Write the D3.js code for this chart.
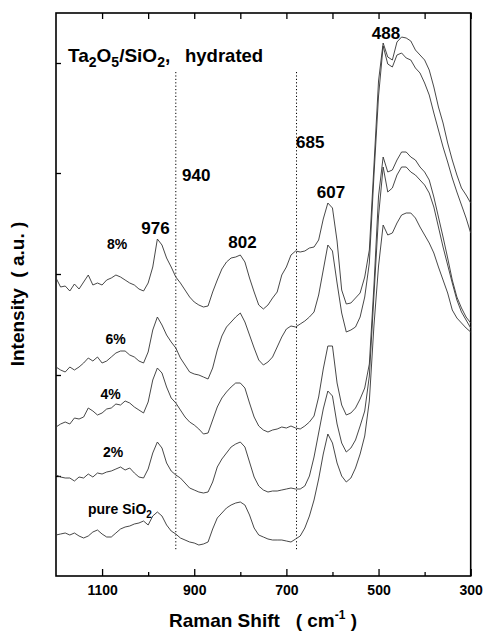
<!DOCTYPE html>
<html>
<head>
<meta charset="utf-8">
<script src="https://cdn.jsdelivr.net/npm/d3@7"></script>
<style>
  body { margin: 0; background: #fff; }
  text { font-family: Arial, "Liberation Sans", sans-serif; font-weight: bold; fill: #000; }
</style>
</head>
<body>
<svg width="483" height="635"></svg>
<script>
// Raman shift grid (cm-1), high to low
var shifts = [1200,1190,1180,1170,1160,1150,1140,1130,1120,1110,
  1100,1090,1080,1070,1060,1050,1040,1030,1020,1010,
  1000,990,980,970,960,950,940,930,920,910,
  900,890,880,870,860,850,840,830,820,810,
  800,790,780,770,760,750,740,730,720,710,
  700,690,680,670,660,650,640,630,620,610,
  600,590,580,570,560,550,540,530,520,510,
  500,490,480,470,460,450,440,430,420,410,
  400,390,380,370,360,350,340,330,320,310,
  300];

// offset intensities (a.u.)
var ta8 = [298,289,290,285,292,287,294,301,291,293,
  291,296,298,301,299,296,293,291,287,285,
  293,309,337,331,318,309,299,293,286,279,
  274,271,269,270,284,296,307,314,318,319,
  321,314,298,284,271,267,271,278,284,301,
  309,321,325,324,325,328,329,336,357,373,
  368,335,286,272,273,278,283,299,326,410,
  495,533,519,516,534,539,538,535,526,521,
  516,506,489,469,453,433,416,401,388,381,
  373];
var ta6 = [209,206,204,209,206,209,213,218,215,219,
  213,215,219,223,225,225,221,219,215,213,
  224,246,259,251,241,234,228,218,211,204,
  202,201,199,197,208,226,240,249,254,259,
  263,254,241,228,216,211,214,219,229,239,
  247,250,249,252,255,259,264,281,306,331,
  325,293,263,244,246,249,259,279,313,400,
  480,530,512,509,521,523,518,516,508,503,
  493,481,463,446,429,414,398,384,371,358,
  343];
var ta4 = [149,152,154,152,158,157,159,168,165,161,
  163,167,168,172,171,175,173,169,166,163,
  174,196,208,203,189,178,173,166,159,154,
  151,147,142,143,156,169,178,184,189,193,
  193,188,173,159,150,146,144,146,147,149,
  148,150,148,147,150,154,160,179,207,230,
  230,193,171,161,163,168,177,188,212,290,
  380,419,404,406,416,424,424,419,416,409,
  404,396,379,359,339,318,296,279,268,259,
  253];
var ta2 = [101,99,98,98,95,99,98,102,99,103,
  102,104,105,107,109,106,108,103,99,98,
  107,123,134,128,113,105,101,98,93,88,
  86,84,83,84,94,109,117,123,129,132,
  134,129,114,99,90,86,84,85,85,86,
  87,88,87,87,90,100,119,143,167,185,
  180,152,133,124,128,136,150,165,200,280,
  360,409,384,388,401,409,409,404,401,396,
  391,383,369,349,329,311,293,276,264,256,
  248];
var pureSiO2 = [41,42,43,41,43,40,38,40,44,46,
  42,39,39,43,47,49,50,52,53,55,
  51,60,64,60,51,45,42,38,36,34,
  33,31,32,34,47,58,63,68,71,73,
  74,71,61,48,41,39,37,36,36,36,
  35,34,37,40,48,60,76,97,122,142,
  133,113,100,94,98,108,122,140,175,250,
  310,351,341,343,353,361,363,363,358,349,
  341,333,323,309,296,283,266,258,253,248,
  244];

var seriesNames = ["8%", "6%", "4%", "2%", "pure SiO2"];
var seriesValues = [ta8, ta6, ta4, ta2, pureSiO2];

var majorTicks = [1100, 900, 700, 500, 300];
var minorTicks = [1000, 800, 600, 400];
var yTicks = [100, 201, 302, 403, 513];
var markerLines = [940, 678];   // dotted guide lines
var markerSpan = [25, 504];

var svg = d3.select("svg"),
    width = +svg.attr("width"),
    height = +svg.attr("height");

// note: "top" is taken by window.top, so use plot* names
var plotLeft = 56, plotRight = 470.7, plotTop = 13, plotBottom = 576;

var x = d3.scaleLinear().domain([1200, 300]).range([plotLeft, plotRight]);
var y = d3.scaleLinear().domain([0, 563]).range([plotBottom, plotTop]);

// axes with inward ticks
svg.append("g")
    .attr("transform", "translate(0," + plotBottom + ")")
    .call(d3.axisBottom(x).tickValues(majorTicks).tickSize(-7).tickPadding(9).tickFormat(d3.format("d")))
    .call(function(g) { g.select(".domain").remove(); })
    .call(function(g) { g.selectAll("text").attr("font-size", 14).attr("font-family", null); });

svg.append("g")
    .attr("transform", "translate(0," + plotBottom + ")")
    .call(d3.axisBottom(x).tickValues(minorTicks).tickSize(-4).tickFormat(""))
    .call(function(g) { g.select(".domain").remove(); });

svg.append("g")
    .attr("transform", "translate(0," + plotTop + ")")
    .call(d3.axisTop(x).tickValues(majorTicks.concat(minorTicks)).tickSize(-6).tickFormat(""))
    .call(function(g) { g.select(".domain").remove(); });

svg.append("g")
    .attr("transform", "translate(" + plotLeft + ",0)")
    .call(d3.axisLeft(y).tickValues(yTicks).tickSize(-5).tickFormat(""))
    .call(function(g) { g.select(".domain").remove(); });

svg.selectAll(".tick line").attr("stroke", "#000").attr("stroke-width", 1.3);

// frame
svg.append("rect")
    .attr("x", plotLeft)
    .attr("y", plotTop)
    .attr("width", plotRight - plotLeft)
    .attr("height", plotBottom - plotTop)
    .attr("fill", "none")
    .attr("stroke", "#000")
    .attr("stroke-width", 1.6);

// dotted guides
svg.append("g").selectAll("line")
    .data(markerLines)
    .enter().append("line")
    .attr("x1", function(d) { return x(d); })
    .attr("x2", function(d) { return x(d); })
    .attr("y1", y(markerSpan[1]))
    .attr("y2", y(markerSpan[0]))
    .attr("stroke", "#000")
    .attr("stroke-width", 1)
    .attr("stroke-dasharray", "1.2,2.2");

// spectra
var line = d3.line()
    .x(function(d, i) { return x(shifts[i]); })
    .y(function(d) { return y(d); });

svg.append("g").selectAll("path")
    .data(seriesValues)
    .enter().append("path")
    .attr("d", line)
    .attr("fill", "none")
    .attr("stroke", "#333")
    .attr("stroke-width", 0.9);

// peak annotations
var peaks = [
  {t: "976", x: 155.5, y: 234, a: "middle"},
  {t: "940", x: 182, y: 181, a: "start"},
  {t: "802", x: 242.5, y: 248, a: "middle"},
  {t: "685", x: 296, y: 148, a: "start"},
  {t: "607", x: 331, y: 198, a: "middle"},
  {t: "488", x: 386, y: 39, a: "middle"}
];
svg.append("g").selectAll("text")
    .data(peaks)
    .enter().append("text")
    .attr("x", function(d) { return d.x; })
    .attr("y", function(d) { return d.y; })
    .attr("text-anchor", function(d) { return d.a; })
    .attr("font-size", 17)
    .text(function(d) { return d.t; });

// sample labels
var labelPos = [[117, 249], [115.5, 343.5], [110.5, 398.5], [113, 457]];
svg.append("g").selectAll("text")
    .data(seriesNames.slice(0, 4))
    .enter().append("text")
    .attr("x", function(d, i) { return labelPos[i][0]; })
    .attr("y", function(d, i) { return labelPos[i][1]; })
    .attr("text-anchor", "middle")
    .attr("font-size", 14)
    .text(function(d) { return d; });

var pure = svg.append("text").attr("x", 88).attr("y", 513.5).attr("font-size", 14);
pure.append("tspan").text("pure SiO");
pure.append("tspan").attr("font-size", 10).attr("dy", 4).text("2");

// title
var title = svg.append("text").attr("x", 68).attr("y", 62).attr("font-size", 19);
title.append("tspan").text("Ta");
title.append("tspan").attr("font-size", 14).attr("dy", 5).text("2");
title.append("tspan").attr("dy", -5).text("O");
title.append("tspan").attr("font-size", 14).attr("dy", 5).text("5");
title.append("tspan").attr("dy", -5).text("/SiO");
title.append("tspan").attr("font-size", 14).attr("dy", 5).text("2");
title.append("tspan").attr("dy", -5).text(",");
title.append("tspan").attr("x", 185).attr("font-size", 18.5).text("hydrated");

// axis titles
var xt = svg.append("text")
    .attr("x", 263)
    .attr("y", 627)
    .attr("text-anchor", "middle")
    .attr("font-size", 19)
    .attr("xml:space", "preserve");
xt.append("tspan").text("Raman Shift   ( cm");
xt.append("tspan").attr("font-size", 12).attr("dy", -8).text("-1");
xt.append("tspan").attr("dy", 8).text(" )");

svg.append("text")
    .attr("transform", "translate(24,294) rotate(-90)")
    .attr("text-anchor", "middle")
    .attr("font-size", 19)
    .attr("xml:space", "preserve")
    .text("Intensity  ( a.u. )");
</script>
</body>
</html>
